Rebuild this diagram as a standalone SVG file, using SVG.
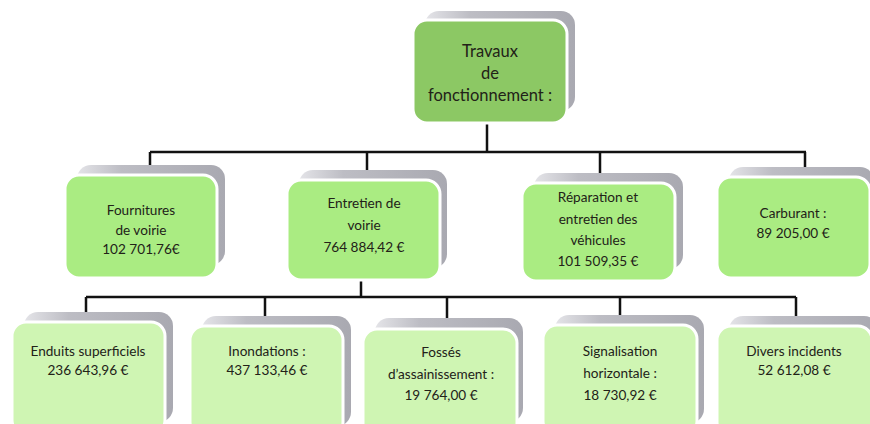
<svg xmlns="http://www.w3.org/2000/svg" width="870" height="424" viewBox="0 0 870 424">
<defs>
<linearGradient id="sh" x1="0" y1="0" x2="1" y2="0">
<stop offset="0" stop-color="#e4e4e8"/>
<stop offset="0.3" stop-color="#bdbdc4"/>
<stop offset="1" stop-color="#a9a9b1"/>
</linearGradient>
<style>
.sh{fill:url(#sh);}
.b0{fill:#8cc864;stroke:#ffffff;stroke-width:3;}
.b1{fill:#aaec82;stroke:#ffffff;stroke-width:3;}
.b2{fill:#cff5b3;stroke:#ffffff;stroke-width:3;}
.t{font-family:Lato,"Noto Sans",sans-serif;font-size:13.6px;fill:#222218;text-anchor:middle;}
.tt{font-family:Lato,"Noto Sans",sans-serif;font-size:16.5px;fill:#222218;text-anchor:middle;}
.c{stroke:#111111;stroke-width:2.5;fill:none;}
</style>
</defs>
<rect width="870" height="424" fill="#ffffff"/>
<g id="connectors">
<path class="c" d="M487,123 V152 M150,152 H806 M150,152 V176 M367,152 V181 M600,152 V184 M805,152 V178"/>
<path class="c" d="M361,280 V297 M86,297 H796 M86,297 V323 M265,297 V326 M447,297 V330 M620,297 V326 M796,297 V326"/>
</g>
<g id="n-top">
<rect class="sh" x="425" y="11" width="150" height="100" rx="14"/>
<rect class="b0" x="413" y="20" width="154" height="103" rx="14"/>
<text class="tt" x="490" y="57">Travaux</text>
<text class="tt" x="490" y="79">de</text>
<text class="tt" x="490" y="101">fonctionnement :</text>
</g>
<g id="n-fournitures">
<rect class="sh" x="77" y="165" width="148" height="100" rx="14"/>
<rect class="b1" x="65" y="175" width="152" height="103" rx="14"/>
<text class="t" x="141" y="215">Fournitures</text>
<text class="t" x="141" y="235">de voirie</text>
<text class="t" x="141" y="254">102 701,76€</text>
</g>
<g id="n-entretien">
<rect class="sh" x="299" y="170" width="148" height="98" rx="14"/>
<rect class="b1" x="287" y="180" width="153" height="100" rx="14"/>
<text class="t" x="364" y="208">Entretien de</text>
<text class="t" x="364" y="230">voirie</text>
<text class="t" x="364" y="252">764 884,42 €</text>
</g>
<g id="n-reparation">
<rect class="sh" x="534" y="173" width="149" height="96" rx="14"/>
<rect class="b1" x="522" y="183" width="153" height="98" rx="14"/>
<text class="t" x="598" y="202">Réparation et</text>
<text class="t" x="598" y="224">entretien des</text>
<text class="t" x="598" y="245">véhicules</text>
<text class="t" x="598" y="266">101 509,35 €</text>
</g>
<g id="n-carburant">
<rect class="sh" x="729" y="167" width="145" height="98" rx="14"/>
<rect class="b1" x="717" y="177" width="153" height="101" rx="14"/>
<text class="t" x="793" y="218">Carburant :</text>
<text class="t" x="793" y="238">89 205,00 €</text>
</g>
<g id="n-enduits">
<rect class="sh" x="24" y="312" width="149" height="110" rx="14"/>
<rect class="b2" x="12" y="322" width="153" height="112" rx="14"/>
<text class="t" x="88" y="356">Enduits superficiels</text>
<text class="t" x="88" y="375">236 643,96 €</text>
</g>
<g id="n-inondations">
<rect class="sh" x="202" y="316" width="149" height="110" rx="14"/>
<rect class="b2" x="190" y="326" width="153" height="110" rx="14"/>
<text class="t" x="267" y="356">Inondations :</text>
<text class="t" x="267" y="375">437 133,46 €</text>
</g>
<g id="n-fosses">
<rect class="sh" x="375" y="318" width="148" height="104" rx="14"/>
<rect class="b2" x="363" y="329" width="154" height="108" rx="14"/>
<text class="t" x="441" y="357">Fossés</text>
<text class="t" x="441" y="379">d’assainissement :</text>
<text class="t" x="441" y="400">19 764,00 €</text>
</g>
<g id="n-signalisation">
<rect class="sh" x="555" y="315" width="149" height="108" rx="14"/>
<rect class="b2" x="543" y="325" width="154" height="110" rx="14"/>
<text class="t" x="620" y="356">Signalisation</text>
<text class="t" x="620" y="378">horizontale :</text>
<text class="t" x="620" y="400">18 730,92 €</text>
</g>
<g id="n-divers">
<rect class="sh" x="729" y="316" width="149" height="108" rx="14"/>
<rect class="b2" x="717" y="326" width="155" height="110" rx="14"/>
<text class="t" x="794" y="356">Divers incidents</text>
<text class="t" x="794" y="375">52 612,08 €</text>
</g>
</svg>
